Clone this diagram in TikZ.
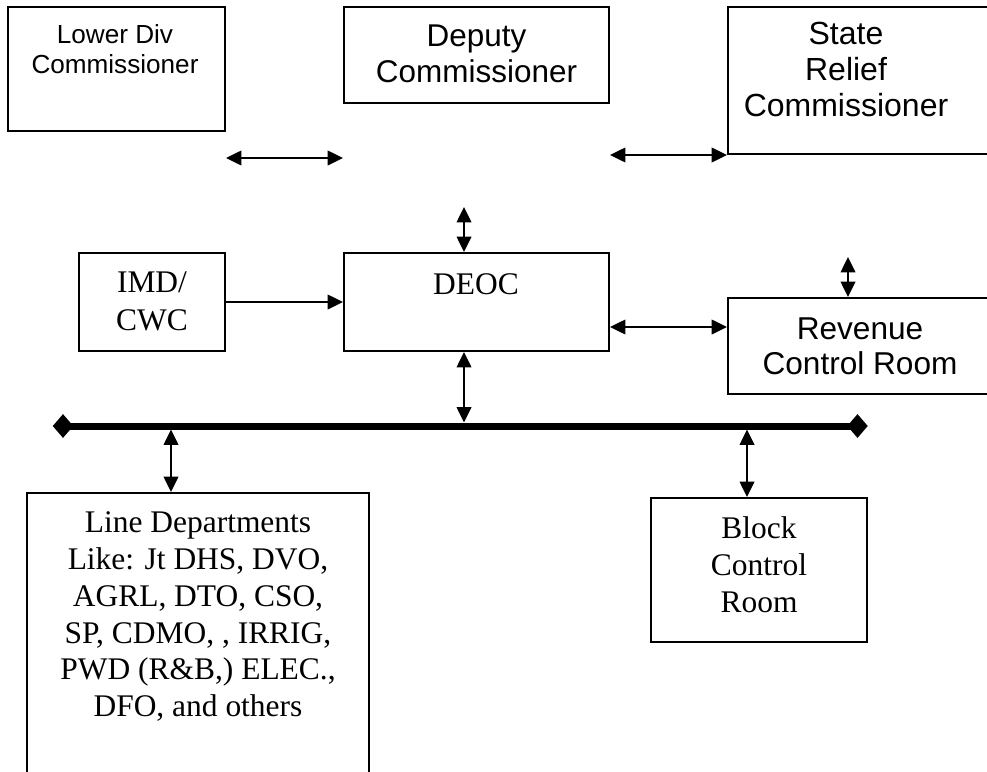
\documentclass[tikz,border=0pt]{standalone}
\usepackage{fontspec}
\setmainfont{Liberation Serif}
\newfontfamily\arialfont{Liberation Sans}
\usetikzlibrary{arrows.meta,fit,shapes.geometric}

\begin{document}
\begin{tikzpicture}[x=0.75pt,y=-0.75pt,
  box/.style={draw, line width=1.5pt, inner sep=0pt, rectangle},
  lbl/.style={anchor=north, inner sep=0pt, align=center},
  sanslbl/.style={lbl, font=\arialfont\fontsize{#1}{1.15*#1}\selectfont},
  link/.style={line width=1.1pt,
    {Triangle[length=11.5pt,width=11pt]}-{Triangle[length=11.5pt,width=11pt]}},
  feed/.style={line width=1.1pt, -{Triangle[length=11.5pt,width=11pt]}},
  bus/.style={line width=5.25pt},
  busend/.style={diamond, fill, inner sep=0pt, minimum width=15.5pt, minimum height=18pt}]

% page
\useasboundingbox (0,0) rectangle (987,771);
\fill[white] (0,0) rectangle (987,771);

% boxes (corners in pixel units, y downwards)
\node[box, fit={(8,7) (225,131)}]     (ldc)  {};
\node[box, fit={(344,7) (609,103)}]   (dc)   {};
\node[box, fit={(728,7) (995,154)}]   (src)  {};
\node[box, fit={(79,253) (225,351)}]  (imd)  {};
\node[box, fit={(344,253) (609,351)}] (deoc) {};
\node[box, fit={(728,298) (995,394)}] (rcr)  {};
\node[box, fit={(27,493) (369,790)}]  (ld)   {};
\node[box, fit={(651,498) (867,642)}] (bcr)  {};

% box texts
\node[lbl, font=\arialfont\fontsize{19.6pt}{22.5pt}\selectfont] (ldc-t) at (115,24.3)
  {Lower Div\\Commissioner};
\node[lbl, font=\arialfont\fontsize{23.6pt}{27pt}\selectfont] (dc-t) at (476.5,24.4)
  {Deputy\\Commissioner};
\node[lbl, font=\arialfont\fontsize{24pt}{27pt}\selectfont] (src-t) at (846,21.4)
  {State\\Relief\\Commissioner};
\node[lbl, font=\arialfont\fontsize{23.7pt}{26.25pt}\selectfont] (rcr-t) at (860,317.4)
  {Revenue\\Control Room};
\node[lbl, font=\fontsize{23.6pt}{28.5pt}\selectfont] (deoc-t) at (476,273.6) {DEOC};
\node[lbl, font=\fontsize{23.6pt}{28.5pt}\selectfont] (imd-t) at (152,271.5) {IMD/\\CWC};
\node[lbl, font=\fontsize{23.6pt}{27.6pt}\selectfont] (ld-t) at (198,511.5)
  {Line Departments\\Like: Jt DHS, DVO,\\AGRL, DTO, CSO,\\SP, CDMO, , IRRIG,\\PWD (R\&B,) ELEC.,\\DFO, and others};
\node[lbl, font=\fontsize{23.6pt}{27.75pt}\selectfont] (bcr-t) at (759,516.5)
  {Block\\Control\\Room};

% top row links
\coordinate (ldcdc-l) at (ldc.east |- 0,158);
\coordinate (ldcdc-r) at (dc.west |- 0,158);
\draw[link] (ldcdc-l) -- (ldcdc-r);
\coordinate (dcsrc-l) at (dc.east |- src.south);
\draw[link] (dcsrc-l) -- (src.south west);

% links around DEOC
\coordinate (deoc-up) at (464,207);
\draw[link] (deoc-up) -- (deoc-up |- deoc.north);
\draw[feed] (imd.east) -- (deoc.west);
\coordinate (dr-l) at (deoc.east |- 0,327);
\draw[link] (dr-l) -- (dr-l -| rcr.west);
\coordinate (rcr-up) at (848,257);
\draw[link] (rcr-up) -- (rcr-up |- rcr.north);

% communication bus
\node[busend] (busL) at (63,426) {};
\node[busend] (busR) at (857.5,426) {};
\draw[bus] (busL.center) -- (busR.center);
\coordinate (bus-deoc) at (464,422.5);
\coordinate (bus-ld)   at (171,429.5);
\coordinate (bus-bcr)  at (747,429.5);
\draw[link] (deoc-up |- deoc.south) -- (bus-deoc);
\draw[link] (bus-ld) -- (bus-ld |- ld.north);
\draw[link] (bus-bcr) -- (bus-bcr |- bcr.north);
\end{tikzpicture}
\end{document}
